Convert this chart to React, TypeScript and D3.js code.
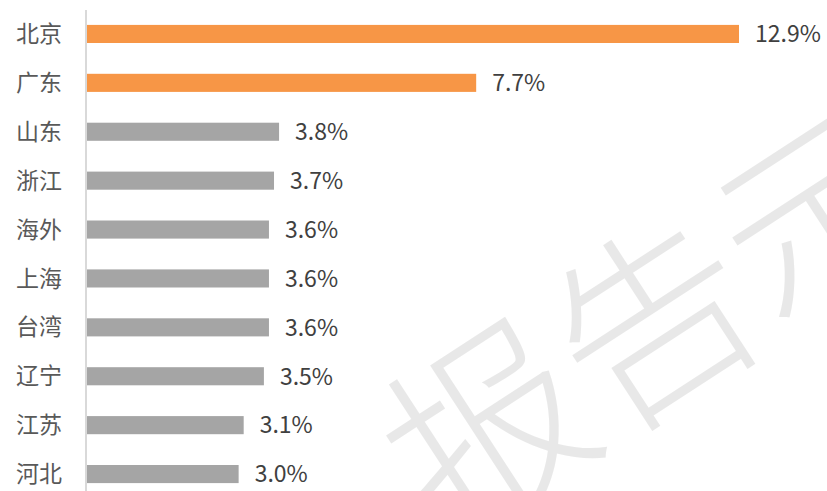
import React from "react";
import * as d3 from "d3";

const categories = ["北京", "广东", "山东", "浙江", "海外", "上海", "台湾", "辽宁", "江苏", "河北"];
const values = [12.9, 7.7, 3.8, 3.7, 3.6, 3.6, 3.6, 3.5, 3.1, 3.0];
const highlighted = ["北京", "广东"];
const watermark = "报告示例";

const W = 827;
const H = 491;
const FONT = "'Noto Sans CJK SC', 'Noto Sans', sans-serif";

export default function App() {
  const y = d3.scaleBand<string>().domain(categories).range([9.5, 498.5]).paddingInner(0.63).paddingOuter(0.315);
  const x = d3.scaleLinear().domain([0, 12.9]).range([87, 739]);
  const bw = y.bandwidth();

  return (
    <svg width={W} height={H} style={{ position: "absolute", left: 0, top: 0, background: "#fff" }}>
      {categories.map((c, i) => {
        const yc = (y(c) as number) + bw / 2;
        return (
          <g key={c}>
            <rect
              x={x(0)}
              y={y(c)}
              width={x(values[i]) - x(0)}
              height={bw}
              fill={highlighted.includes(c) ? "#F79646" : "#A5A5A5"}
            />
            <text x={62} y={yc} dy="0.35em" textAnchor="end" fontFamily={FONT} fontSize={23} fill="#595959">
              {c}
            </text>
            <text x={x(values[i]) + 16} y={yc} dy="0.36em" fontFamily={FONT} fontSize={23} fill="#404040">
              {values[i].toFixed(1) + "%"}
            </text>
          </g>
        );
      })}
      <line x1={86} x2={86} y1={10} y2={H} stroke="#d9d9d9" strokeWidth={2} />
      <text
        x={0}
        y={0}
        transform="translate(445,545) rotate(-33)"
        fontFamily={FONT}
        fontSize={198}
        fontWeight={300}
        fill="#c8c8c8"
        opacity={0.4}
      >
        {watermark}
      </text>
    </svg>
  );
}
